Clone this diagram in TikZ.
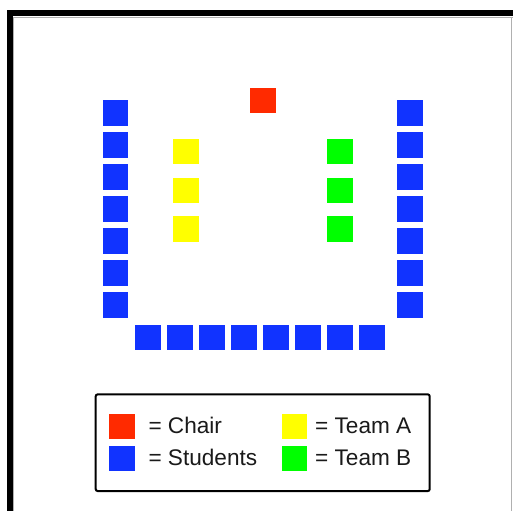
\documentclass[tikz,border=0pt]{standalone}
\usepackage{fontspec}
\setmainfont{Liberation Sans}
\definecolor{seatred}{HTML}{FF2A00}
\definecolor{seatblue}{HTML}{1133FF}
\definecolor{seatyellow}{HTML}{FFFF00}
\definecolor{seatgreen}{HTML}{00FF00}
\definecolor{edgegrey}{HTML}{B0B0B0}
\definecolor{legtext}{HTML}{1A1A1A}
\begin{document}
\begin{tikzpicture}[x=1pt,y=-1pt,
  seat/.style={rectangle,minimum size=25.5pt,inner sep=0pt,draw=none},
  student/.style={seat,fill=seatblue},
  chair/.style={seat,fill=seatred},
  teama/.style={seat,fill=seatyellow},
  teamb/.style={seat,fill=seatgreen},
  legtxt/.style={anchor=base west,inner sep=0pt,text=legtext,font=\fontsize{22.6}{25}\selectfont},
  legbox/.style={draw=black,line width=2pt,rounded corners=2pt}]
\useasboundingbox (0,0) rectangle (513,511);
\fill[white] (0,0) rectangle (513,511);
% frame
\fill[black] (7.3,10.5) rectangle (513,16.5);
\fill[black] (7.3,10.5) rectangle (13.3,511);
\draw[edgegrey,line width=0.8pt] (13.3,17) -- (513,17);
\draw[edgegrey,line width=0.8pt] (13.8,17) -- (13.8,511);
\draw[edgegrey,line width=1pt] (511.6,17) -- (511.6,511);
% chair
\node[chair] (chair) at (263,100.3) {};
% left and right columns of students
\foreach \k in {0,...,6}{
  \node[student] (L\k) at (115.7,{113+32*\k}) {};
  \node[student] (R\k) at (410,{113+32*\k}) {};
}
% bottom row
\foreach \k in {0,...,7}{
  \node[student] (B\k) at ({147.8+32*\k},337.5) {};
}
% teams
\foreach \k in {0,1,2}{
  \node[teama] (A\k) at (186,{151.7+38.65*\k}) {};
  \node[teamb] (G\k) at (340,{151.7+38.65*\k}) {};
}
% legend
\node[legbox,minimum width=334pt,minimum height=96.7pt,inner sep=0pt] (legend) at (262.7,442.7) {};
\node[chair] (lchair) at (122,426.7) {};
\node[student] (lstud) at (122,458.7) {};
\node[teama] (lteama) at (294.7,426.7) {};
\node[teamb] (lteamb) at (294.7,458.7) {};
\node[legtxt] (tchair) at (148.3,433.8) {= Chair};
\node[legtxt] (tstud) at (148.3,465.8) {= Students};
\node[legtxt] (tteama) at (315,433.8) {= Team A};
\node[legtxt] (tteamb) at (315,465.8) {= Team B};
\end{tikzpicture}
\end{document}
